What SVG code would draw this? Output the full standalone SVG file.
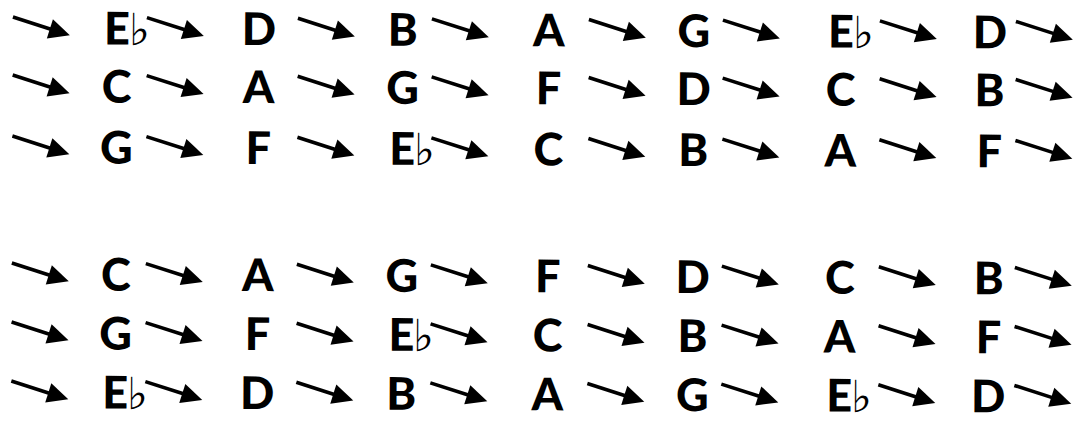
<svg xmlns="http://www.w3.org/2000/svg" xmlns:xlink="http://www.w3.org/1999/xlink" width="1091" height="433" viewBox="0 0 1091 433">
<style>
.n{font-family:Lato,"Liberation Sans",sans-serif;font-weight:900;font-size:45px;text-anchor:middle;fill:#000}
.fl{font-family:"DejaVu Sans",sans-serif;font-weight:200;font-size:44px;fill:#000}
</style>
<defs>
<g id="arr"><path d="M0,0 L38,12" stroke="#000" stroke-width="3.6" fill="none"/><path d="M57,18 L34,21.2 L40,2.1 Z" fill="#000"/></g>
</defs>
<rect width="1091" height="433" fill="#fff"/>
<g transform="rotate(0.25)">
<g id="connectors">
<use href="#arr" x="13" y="17"/><use href="#arr" x="147" y="17"/><use href="#arr" x="298" y="17"/><use href="#arr" x="432" y="17"/><use href="#arr" x="589" y="17"/><use href="#arr" x="723" y="17"/><use href="#arr" x="880" y="17"/><use href="#arr" x="1016" y="17"/>
<use href="#arr" x="13" y="75"/><use href="#arr" x="147" y="75"/><use href="#arr" x="298" y="75"/><use href="#arr" x="432" y="75"/><use href="#arr" x="589" y="75"/><use href="#arr" x="723" y="75"/><use href="#arr" x="880" y="75"/><use href="#arr" x="1016" y="75"/>
<use href="#arr" x="13" y="136"/><use href="#arr" x="147" y="136"/><use href="#arr" x="298" y="136"/><use href="#arr" x="432" y="136"/><use href="#arr" x="589" y="136"/><use href="#arr" x="723" y="136"/><use href="#arr" x="880" y="136"/><use href="#arr" x="1016" y="136"/>
<use href="#arr" x="13" y="263"/><use href="#arr" x="147" y="263"/><use href="#arr" x="298" y="263"/><use href="#arr" x="432" y="263"/><use href="#arr" x="589" y="263"/><use href="#arr" x="723" y="263"/><use href="#arr" x="880" y="263"/><use href="#arr" x="1016" y="263"/>
<use href="#arr" x="13" y="322"/><use href="#arr" x="147" y="322"/><use href="#arr" x="298" y="322"/><use href="#arr" x="432" y="322"/><use href="#arr" x="589" y="322"/><use href="#arr" x="723" y="322"/><use href="#arr" x="880" y="322"/><use href="#arr" x="1016" y="322"/>
<use href="#arr" x="13" y="381"/><use href="#arr" x="147" y="381"/><use href="#arr" x="298" y="381"/><use href="#arr" x="432" y="381"/><use href="#arr" x="589" y="381"/><use href="#arr" x="723" y="381"/><use href="#arr" x="880" y="381"/><use href="#arr" x="1016" y="381"/>
</g>
<g id="r1c1"><text class="n" x="117" y="44">E</text><text class="fl" x="129" y="44">♭</text></g>
<g id="r1c2"><text class="n" x="259" y="44">D</text></g>
<g id="r1c3"><text class="n" x="403" y="44">B</text></g>
<g id="r1c4"><text class="n" x="549" y="44">A</text></g>
<g id="r1c5"><text class="n" x="694" y="44">G</text></g>
<g id="r1c6"><text class="n" x="841" y="44">E</text><text class="fl" x="853" y="44">♭</text></g>
<g id="r1c7"><text class="n" x="990" y="44">D</text></g>
<g id="r2c1"><text class="n" x="117" y="102">C</text></g>
<g id="r2c2"><text class="n" x="259" y="102">A</text></g>
<g id="r2c3"><text class="n" x="403" y="102">G</text></g>
<g id="r2c4"><text class="n" x="549" y="102">F</text></g>
<g id="r2c5"><text class="n" x="694" y="102">D</text></g>
<g id="r2c6"><text class="n" x="841" y="102">C</text></g>
<g id="r2c7"><text class="n" x="990" y="102">B</text></g>
<g id="r3c1"><text class="n" x="117" y="163">G</text></g>
<g id="r3c2"><text class="n" x="259" y="163">F</text></g>
<g id="r3c3"><text class="n" x="403" y="163">E</text><text class="fl" x="415" y="163">♭</text></g>
<g id="r3c4"><text class="n" x="549" y="163">C</text></g>
<g id="r3c5"><text class="n" x="694" y="163">B</text></g>
<g id="r3c6"><text class="n" x="841" y="163">A</text></g>
<g id="r3c7"><text class="n" x="990" y="163">F</text></g>
<g id="r4c1"><text class="n" x="117" y="290">C</text></g>
<g id="r4c2"><text class="n" x="259" y="290">A</text></g>
<g id="r4c3"><text class="n" x="403" y="290">G</text></g>
<g id="r4c4"><text class="n" x="549" y="290">F</text></g>
<g id="r4c5"><text class="n" x="694" y="290">D</text></g>
<g id="r4c6"><text class="n" x="841" y="290">C</text></g>
<g id="r4c7"><text class="n" x="990" y="290">B</text></g>
<g id="r5c1"><text class="n" x="117" y="349">G</text></g>
<g id="r5c2"><text class="n" x="259" y="349">F</text></g>
<g id="r5c3"><text class="n" x="403" y="349">E</text><text class="fl" x="415" y="349">♭</text></g>
<g id="r5c4"><text class="n" x="549" y="349">C</text></g>
<g id="r5c5"><text class="n" x="694" y="349">B</text></g>
<g id="r5c6"><text class="n" x="841" y="349">A</text></g>
<g id="r5c7"><text class="n" x="990" y="349">F</text></g>
<g id="r6c1"><text class="n" x="117" y="408">E</text><text class="fl" x="129" y="408">♭</text></g>
<g id="r6c2"><text class="n" x="259" y="408">D</text></g>
<g id="r6c3"><text class="n" x="403" y="408">B</text></g>
<g id="r6c4"><text class="n" x="549" y="408">A</text></g>
<g id="r6c5"><text class="n" x="694" y="408">G</text></g>
<g id="r6c6"><text class="n" x="841" y="408">E</text><text class="fl" x="853" y="408">♭</text></g>
<g id="r6c7"><text class="n" x="990" y="408">D</text></g>
</g>
</svg>
